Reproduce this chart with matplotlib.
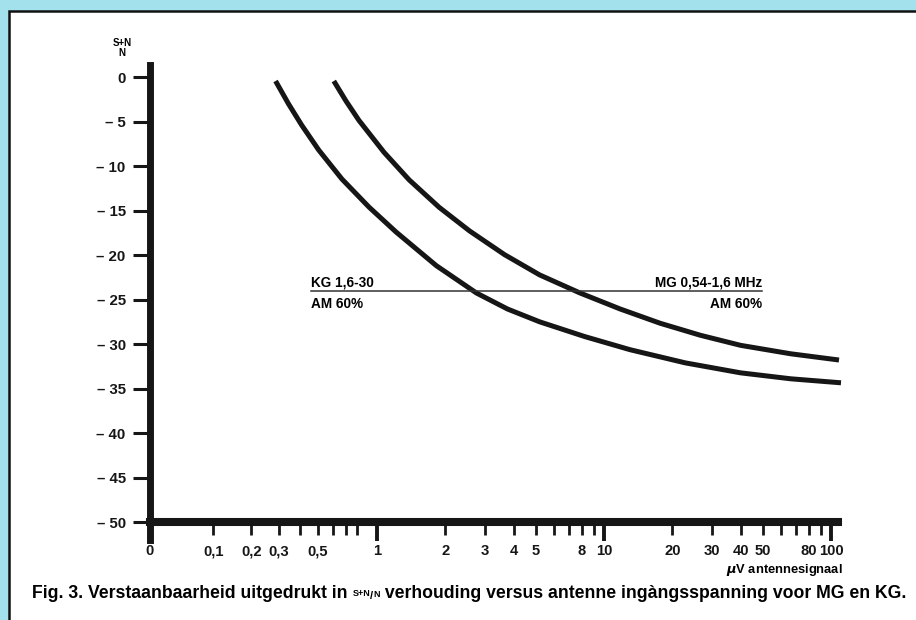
import numpy as np
import matplotlib
matplotlib.use("Agg")
import matplotlib.pyplot as plt
from matplotlib.patches import Rectangle

plt.rcParams["font.family"] = ["Liberation Sans", "DejaVu Sans"]
plt.rcParams["font.weight"] = "bold"

# curve readings: antenna signal in uV, (S+N)/N in dB
kg_uv = [0.286, 0.342, 0.406, 0.504, 0.667, 0.913, 1.214, 1.824, 2.743,
         3.760, 5.210, 8.240, 13.03, 22.82, 39.98, 66.53, 110.7]
kg_db = [-0.45, -3.03, -5.39, -8.20, -11.46, -14.61, -17.42, -21.19, -24.27,
         -26.07, -27.51, -29.17, -30.64, -32.12, -33.24, -33.91, -34.36]
mg_uv = [0.606, 0.699, 0.814, 1.074, 1.385, 1.881, 2.553, 3.647, 5.210,
         7.832, 11.77, 17.69, 26.60, 39.98, 66.53, 108.5]
mg_db = [-0.45, -2.67, -4.87, -8.46, -11.55, -14.65, -17.28, -19.96, -22.24,
         -24.26, -26.06, -27.67, -29.02, -30.15, -31.10, -31.80]

# reference line
ref_db = -24.05
ref_from, ref_to = 0.46, 49.7

y_ticks = [0, -5, -10, -15, -20, -25, -30, -35, -40, -45, -50]
y_labels = ["0"] + ["\u2013 %d" % abs(v) for v in y_ticks[1:]]

long_ticks = [0, 1, 10, 100]
long_labels = ["0", "1", "10", "100"]
short_ticks = [0.1, 0.2, 0.3, 0.4, 0.5, 0.6, 0.7, 0.8,
               2, 3, 4, 5, 6, 7, 8, 9,
               20, 30, 40, 50, 60, 70, 80, 90]
short_labels = ["0,1", "0,2", "0,3", "", "0,5", "", "", "",
                "2", "3", "4", "5", "", "", "8", "",
                "20", "30", "40", "50", "", "", "80", ""]


def fwd(x):
    x = np.asarray(x, dtype=float)
    low = np.log10(0.1 + 0.9 * np.clip(x, 0, 1))
    high = np.log10(np.maximum(x, 1))
    return np.where(x < 1, low, high)


def inv(u):
    u = np.asarray(u, dtype=float)
    return np.where(u < 0, (10 ** u - 0.1) / 0.9, 10 ** u)


W, H = 916, 620
fig = plt.figure(figsize=(W / 100, H / 100), dpi=100)
fig.patch.set_facecolor("#a3e1ec")
fig.patches.append(Rectangle((9 / W, -0.1), 1.2, 1.1 - 11 / H,
                             transform=fig.transFigure, facecolor="white",
                             edgecolor="#111111", lw=1.8, zorder=-10))

ax = fig.add_axes([150 / W, 1 - 522 / H, 688 / W, 457 / H])
ax.set_zorder(5)
ax.set_facecolor("none")
ax.set_xscale("function", functions=(fwd, inv))
ax.set_xlim(0, 107.4)
ax.set_ylim(-50, 1.35)

ink = "#161616"
for s in ["top", "right"]:
    ax.spines[s].set_visible(False)
ax.spines["left"].set_linewidth(5.0)
ax.spines["left"].set_color(ink)
ax.spines["left"].set_bounds(-52.0, 1.35)
ax.spines["bottom"].set_linewidth(5.8)
ax.spines["bottom"].set_color(ink)

ax.set_yticks(y_ticks, labels=y_labels)
ax.tick_params(axis="y", direction="out", length=12, width=2.2, pad=5.5,
               labelsize=10.8, colors=ink)

ax.set_xticks(long_ticks, labels=long_labels)
ax.set_xticks(short_ticks, labels=short_labels, minor=True)
ax.tick_params(axis="x", which="major", direction="out", length=14, width=2.8,
               pad=2.0, labelsize=10.6, colors=ink)
ax.tick_params(axis="x", which="minor", direction="out", length=9, width=2.0,
               pad=7.0, labelsize=10.6, colors=ink)

ax.plot(kg_uv, kg_db, color=ink, lw=3.6, solid_capstyle="butt", clip_on=False)
ax.plot(mg_uv, mg_db, color=ink, lw=3.6, solid_capstyle="butt", clip_on=False)
ax.plot([ref_from, ref_to], [ref_db, ref_db], color="#333333", lw=1.1)

ax.annotate("KG 1,6-30", (ref_from, ref_db), xytext=(0, 3.6),
            textcoords="offset points", ha="left", va="baseline", fontsize=9.8)
ax.annotate("AM 60%", (ref_from, ref_db), xytext=(0, -12.3),
            textcoords="offset points", ha="left", va="baseline", fontsize=9.8)
ax.annotate("MG 0,54-1,6 MHz", (ref_to, ref_db), xytext=(0, 3.6),
            textcoords="offset points", ha="right", va="baseline", fontsize=9.8)
ax.annotate("AM 60%", (ref_to, ref_db), xytext=(0, -12.3),
            textcoords="offset points", ha="right", va="baseline", fontsize=9.8)

# y axis title (S+N)/N
fig.text(122 / W, 1 - 45.5 / H, "S+N", ha="center", va="baseline", fontsize=7)
fig.text(122 / W, 1 - 56 / H, "N", ha="center", va="baseline", fontsize=7)

# x axis title
fig.text(843 / W, 1 - 573 / H, r"$\mu$V antennesignaal", ha="right",
         va="baseline", fontsize=9.3)

# caption, with the small (S+N)/N inset
c1 = fig.text(32 / W, 1 - 598 / H, "Fig. 3. Verstaanbaarheid uitgedrukt in ",
              ha="left", va="baseline", fontsize=12.7)
sup = fig.text(0, 0, "S+N", ha="left", va="top", fontsize=6.5)
slash = fig.text(0, 0, "/", ha="left", va="bottom", fontsize=8)
sub = fig.text(0, 0, "N", ha="left", va="bottom", fontsize=6.5)
rest = fig.text(0, 0, " verhouding versus antenne ingàngsspanning voor MG en KG.",
                ha="left", va="bottom", fontsize=12.7)

fig.canvas.draw()
r = fig.canvas.get_renderer()
inv_fig = fig.transFigure.inverted()


def place(t, x_px, y_px):
    t.set_position(inv_fig.transform((x_px, y_px)))


b1 = c1.get_window_extent(r)
place(sup, b1.x1, b1.y1 - 4)
bs = sup.get_window_extent(r)
place(slash, bs.x1, b1.y0 + 1)
bsl = slash.get_window_extent(r)
place(sub, bsl.x1, b1.y0 + 3)
bn = sub.get_window_extent(r)
place(rest, bn.x1, b1.y0)

fig.savefig("out.png", dpi=100, facecolor=fig.get_facecolor())
